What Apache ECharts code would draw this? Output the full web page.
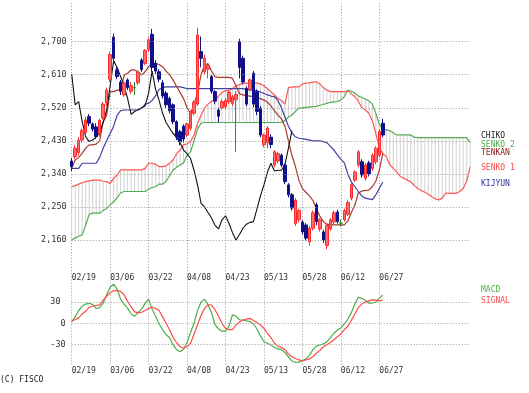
<!DOCTYPE html>
<html>
<head>
<meta charset="utf-8">
<script src="https://cdn.jsdelivr.net/npm/echarts@6/dist/echarts.min.js"></script>
<style>
html,body{margin:0;padding:0;background:#fff;}
#chart{width:529px;height:393px;}
</style>
</head>
<body>
<div id="chart"></div>
<script>
// ---------- data ----------
const tickLabels = ['02/19','03/06','03/22','04/08','04/23','05/13','05/28','06/12','06/27'];
const tickIndex  = [0, 11, 22, 33, 44, 55, 66, 77, 88];
const slotCount = 115;               // 90 trading days + cloud projected forward
const priceTicks = [2160, 2250, 2340, 2430, 2520, 2610, 2700];
const macdTicks = [30, 0, -30];

// [open, close, low, high]
const candles = [
[2375,2360,2348,2383],[2387,2410,2380,2418],[2398,2432,2390,2440],[2432,2458,2425,2463],[2452,2487,2445,2495],
[2496,2478,2470,2503],[2476,2462,2455,2480],[2468,2442,2435,2478],[2450,2486,2442,2490],[2492,2530,2488,2536],
[2533,2568,2525,2575],[2598,2665,2590,2672],[2712,2655,2640,2722],[2623,2605,2598,2632],[2590,2565,2555,2596],
[2555,2588,2550,2592],[2596,2575,2568,2600],[2565,2580,2558,2590],[2575,2575,2555,2590],[2588,2617,2582,2622],
[2650,2624,2618,2655],[2641,2676,2636,2680],[2678,2705,2672,2712],[2720,2630,2618,2735],[2641,2620,2612,2650],
[2618,2598,2590,2625],[2588,2552,2545,2595],[2560,2528,2520,2566],[2545,2512,2505,2550],[2528,2482,2475,2532],
[2482,2440,2432,2486],[2455,2428,2418,2460],[2470,2435,2425,2475],[2446,2476,2440,2480],[2464,2507,2458,2512],
[2505,2535,2500,2540],[2530,2718,2525,2738],[2673,2655,2630,2714],[2618,2655,2610,2665],[2625,2635,2600,2642],
[2605,2565,2558,2610],[2564,2538,2530,2568],[2514,2497,2480,2520],[2520,2537,2515,2542],[2522,2540,2515,2546],
[2537,2562,2530,2567],[2532,2550,2525,2555],[2542,2556,2400,2565],[2700,2630,2600,2708],[2655,2590,2585,2662],
[2573,2530,2524,2578],[2570,2596,2565,2600],[2614,2530,2522,2620],[2564,2510,2500,2570],[2519,2446,2440,2525],
[2419,2446,2412,2450],[2425,2465,2410,2470],[2440,2420,2410,2448],[2364,2400,2358,2405],[2375,2395,2368,2400],
[2391,2364,2358,2396],[2364,2319,2312,2368],[2310,2283,2276,2315],[2283,2247,2240,2288],[2205,2268,2198,2274],
[2215,2240,2208,2245],[2209,2182,2175,2214],[2201,2165,2158,2206],[2155,2192,2145,2198],[2192,2234,2186,2240],
[2256,2210,2200,2262],[2190,2215,2183,2220],[2182,2160,2152,2188],[2145,2200,2135,2205],[2190,2215,2185,2220],
[2209,2234,2203,2240],[2236,2210,2205,2242],[2206,2206,2196,2216],[2215,2240,2210,2245],[2230,2262,2225,2268],
[2274,2310,2268,2315],[2323,2345,2318,2350],[2364,2400,2358,2405],[2373,2337,2330,2380],[2328,2364,2322,2370],
[2370,2340,2333,2376],[2355,2391,2348,2396],[2373,2410,2366,2415],[2391,2455,2385,2462],[2478,2446,2440,2490]
];

const tenkan = [
2355,2378,2385,2396,2410,2419,2419,2421,2430,2482,
2500,2564,2564,2568,2568,2609,2614,2623,2623,2618,
2609,2618,2632,2641,2641,2638,2632,2620,2610,2596,
2578,2562,2545,2520,2505,2530,2560,2610,2637,2640,
2620,2605,2603,2603,2603,2603,2600,2580,2558,2555,
2553,2552,2550,2548,2545,2541,2535,2525,2512,2500,
2490,2470,2430,2390,2360,2323,2300,2290,2280,2268,
2245,2225,2210,2203,2201,2201,2201,2201,2201,2212,
2235,2255,2288,2293,2295,2296,2305,2320,2350,2395
];

const kijun = [
2355,2355,2355,2369,2369,2369,2369,2369,2385,2410,
2430,2450,2470,2500,2512,2514,2514,2514,2514,2514,
2518,2530,2532,2540,2553,2570,2575,2577,2577,2577,
2577,2577,2575,2572,2572,2572,2572,2572,2572,2572,
2572,2572,2572,2572,2572,2572,2572,2572,2572,2572,
2570,2569,2568,2566,2563,2559,2555,2552,2550,2540,
2520,2495,2470,2452,2441,2437,2436,2434,2432,2430,
2430,2430,2428,2425,2415,2405,2392,2380,2370,2340,
2318,2305,2292,2280,2274,2272,2270,2283,2300,2318
];

const senko1 = [
2305,2308,2312,2316,2319,2321,2323,2323,2323,2320,
2319,2314,2328,2337,2351,2351,2351,2351,2351,2351,
2351,2355,2369,2369,2366,2360,2360,2362,2369,2378,
2395,2405,2419,2422,2428,2446,2478,2500,2520,2530,
2538,2541,2552,2562,2566,2568,2572,2580,2583,2586,
2587,2587,2587,2587,2585,2580,2572,2564,2555,2546,
2540,2530,2575,2577,2577,2577,2585,2587,2588,2590,
2591,2585,2575,2568,2564,2564,2564,2564,2564,2566,
2558,2550,2538,2520,2514,2505,2485,2450,2410,2395,
2387,2365,2355,2345,2333,2328,2323,2318,2308,2300,
2295,2290,2285,2278,2272,2269,2274,2288,2287,2287,
2287,2292,2300,2320,2360
];

const senko2 = [
2160,2165,2170,2174,2200,2230,2233,2233,2233,2240,
2246,2255,2264,2275,2288,2292,2292,2292,2292,2292,
2292,2292,2298,2303,2305,2312,2312,2320,2335,2350,
2358,2364,2370,2391,2400,2430,2462,2478,2480,2480,
2480,2480,2480,2480,2480,2480,2480,2480,2480,2480,
2480,2480,2480,2480,2480,2480,2480,2480,2480,2480,
2480,2485,2495,2500,2510,2519,2520,2521,2522,2523,
2524,2527,2529,2532,2535,2536,2537,2541,2550,2568,
2565,2560,2552,2548,2544,2539,2530,2505,2475,2462,
2460,2458,2452,2446,2446,2446,2446,2446,2440,2439,
2439,2439,2439,2439,2439,2439,2439,2439,2439,2439,
2439,2439,2439,2439,2425
];

const chiko = [
2612,2528,2537,2482,2441,2428,2432,2440,2452,2480,
2514,2580,2648,2630,2605,2580,2545,2502,2510,2515,
2520,2525,2560,2620,2570,2540,2505,2480,2465,2450,
2440,2425,2405,2395,2382,2350,2310,2260,2250,2235,
2220,2200,2190,2215,2226,2205,2180,2160,2175,2192,
2203,2208,2210,2245,2280,2310,2345,2369,2348,2350,
2350,2365,2410,2458
];

const macd = [
2,9,18,24,27,28,26.5,21,22,28,
40,51,55,48,34,27,21,13,10,15,
20,28,34,20,10,-1,-9,-16,-20,-30,
-37,-40,-36,-27,-13,0,18,30,34,26,
15,-2,-8,-11,-11,-4,12,10,5,4.6,
3.5,2.5,-1,-8,-18,-26,-28,-30.5,-34,-36,
-37,-41,-47,-53,-55,-54.5,-52.5,-50,-45,-37,
-32,-30.5,-29,-26,-20,-14,-9.4,-6.5,-1,6,
15,27,36.6,35,32,28.5,28.5,30,35,40
];

const signal = [
3.7,5,8,13,17,22.5,24,25,26,32.5,
38,43,46,46,45,40,31,23,16,15,
15.5,18,21,22.5,21,18,9,0,-9,-20,
-27,-33,-35,-33,-28,-15,-2,11,21,26,
25.7,19,10,0,-7,-9,-9,-2.4,2,4.6,
6,7,4,1,-2.4,-7,-14,-20,-28,-32,
-34,-37,-43,-47,-49.5,-51.5,-52.5,-51.5,-50,-47,
-42,-38,-33,-30,-27,-23,-19,-15,-9,-4,
4,13,22,27,30,31.5,33,32.5,31.5,32.8
];

// ---------- chart ----------
const categories = Array.from({length: slotCount}, (_, i) => String(i));
const isTick = (idx) => tickIndex.indexOf(Number(idx)) >= 0;
const tickText = (v) => { const k = tickIndex.indexOf(Number(v)); return k >= 0 ? tickLabels[k] : ''; };

const FONT = 'DejaVu Sans Mono';
const TXT = '#333';
const GRIDLINE = {color: '#9a9a9a', width: 1, type: [1, 2]};

const cloudData = [];
for (let i = 0; i < slotCount; i++) {
  if (senko1[i] != null && senko2[i] != null) cloudData.push([i, senko1[i], senko2[i]]);
}

const chart = echarts.init(document.getElementById('chart'), null, {renderer: 'canvas'});

const xCommon = {
  type: 'category', data: categories, boundaryGap: false,
  axisLine: {show: false}, axisTick: {show: false},
  splitLine: {show: true, interval: (i) => isTick(i), lineStyle: GRIDLINE},
  axisLabel: {show: true, interval: (i) => isTick(i), formatter: tickText, align: 'left',
              margin: 1, color: TXT, fontFamily: FONT, fontSize: 8}
};

chart.setOption({
  animation: false,
  backgroundColor: '#fff',
  grid: [
    {left: 71.7, top: 3.14, width: 398.5, height: 269.9},
    {left: 71.7, top: 273.5, width: 398.5, height: 92.5}
  ],
  xAxis: [
    Object.assign({gridIndex: 0}, xCommon),
    Object.assign({gridIndex: 1}, xCommon)
  ],
  yAxis: [
    {gridIndex: 0, type: 'value', min: 2070, max: 2805, interval: 90,
     axisLine: {show: false}, axisTick: {show: false}, splitLine: {show: false},
     axisLabel: {margin: 5, color: TXT, fontFamily: FONT, fontSize: 8.5,
       showMaxLabel: false,
       formatter: (v) => priceTicks.indexOf(v) >= 0 ? v.toLocaleString('en-US') : ''}},
    {gridIndex: 1, type: 'value', min: -60, max: 70, interval: 30,
     axisLine: {show: false}, axisTick: {show: false}, splitLine: {show: false},
     axisLabel: {margin: 6, color: TXT, fontFamily: FONT, fontSize: 8.5,
       showMaxLabel: false,
       formatter: (v) => macdTicks.indexOf(v) >= 0 ? (v === 30 ? '30 ' : String(v)) : ''}}
  ],
  series: [
    {type: 'custom', name: 'cloud', xAxisIndex: 0, yAxisIndex: 0, z: 1, silent: true,
     renderItem: function (params, api) {
       const a = api.coord([api.value(0), api.value(1)]);
       const b = api.coord([api.value(0), api.value(2)]);
       return {type: 'line', shape: {x1: a[0], y1: a[1], x2: b[0], y2: b[1]},
               style: {stroke: '#d2d2d2', lineWidth: 1}};
     },
     data: cloudData, clip: true},
    {type: 'line', name: 'SENKO 2', data: senko2, xAxisIndex: 0, yAxisIndex: 0, z: 2,
     symbol: 'none', lineStyle: {color: '#55aa55', width: 1.2}, silent: true,
     markLine: {silent: true, symbol: ['none', 'none'], label: {show: false},
       lineStyle: GRIDLINE, data: priceTicks.map(v => ({yAxis: v}))}},
    {type: 'line', name: 'SENKO 1', data: senko1, xAxisIndex: 0, yAxisIndex: 0, z: 2,
     symbol: 'none', lineStyle: {color: '#ff5555', width: 1.2}, silent: true},
    {type: 'line', name: 'KIJYUN', data: kijun, xAxisIndex: 0, yAxisIndex: 0, z: 3,
     symbol: 'none', lineStyle: {color: '#4040a0', width: 1.2}, silent: true},
    {type: 'line', name: 'TENKAN', data: tenkan, xAxisIndex: 0, yAxisIndex: 0, z: 3,
     symbol: 'none', lineStyle: {color: '#a83a30', width: 1.2}, silent: true},
    {type: 'line', name: 'CHIKO', data: chiko, xAxisIndex: 0, yAxisIndex: 0, z: 3,
     symbol: 'none', lineStyle: {color: '#111', width: 1.1}, silent: true},
    {type: 'candlestick', name: 'price', data: candles, xAxisIndex: 0, yAxisIndex: 0, z: 4,
     barWidth: 3, clip: false, silent: true,
     itemStyle: {color: '#ff6a6a', color0: '#10108a', borderColor: '#ff2a2a',
                 borderColor0: '#10108a', borderColorDoji: '#208a20', borderWidth: 1}},
    {type: 'line', name: 'MACD', data: macd, xAxisIndex: 1, yAxisIndex: 1, z: 3,
     symbol: 'none', lineStyle: {color: '#4caf4c', width: 1.2}, silent: true,
     markLine: {silent: true, symbol: ['none', 'none'], label: {show: false},
       lineStyle: GRIDLINE, data: macdTicks.map(v => ({yAxis: v}))}},
    {type: 'line', name: 'SIGNAL', data: signal, xAxisIndex: 1, yAxisIndex: 1, z: 3,
     symbol: 'none', lineStyle: {color: '#ff4a4a', width: 1.2}, silent: true}
  ],
  graphic: [
    {type: 'text', left: 481, top: 132, style: {text: 'CHIKO', fill: '#222', font: '8px "DejaVu Sans Mono"'}},
    {type: 'text', left: 481, top: 141, style: {text: 'SENKO 2', fill: '#4caf4c', font: '8px "DejaVu Sans Mono"'}},
    {type: 'text', left: 481, top: 149, style: {text: 'TENKAN', fill: '#8b1a1a', font: '8px "DejaVu Sans Mono"'}},
    {type: 'text', left: 481, top: 164, style: {text: 'SENKO 1', fill: '#ff4a4a', font: '8px "DejaVu Sans Mono"'}},
    {type: 'text', left: 481, top: 179.5, style: {text: 'KIJYUN', fill: '#3030a0', font: '8px "DejaVu Sans Mono"'}},
    {type: 'text', left: 481, top: 285.5, style: {text: 'MACD', fill: '#4caf4c', font: '8px "DejaVu Sans Mono"'}},
    {type: 'text', left: 481, top: 296.5, style: {text: 'SIGNAL', fill: '#ff4a4a', font: '8px "DejaVu Sans Mono"'}},
    {type: 'text', left: 0, top: 376, style: {text: '(C) FISCO', fill: '#222', font: '8px "DejaVu Sans Mono"'}}
  ]
});
</script>
</body>
</html>
